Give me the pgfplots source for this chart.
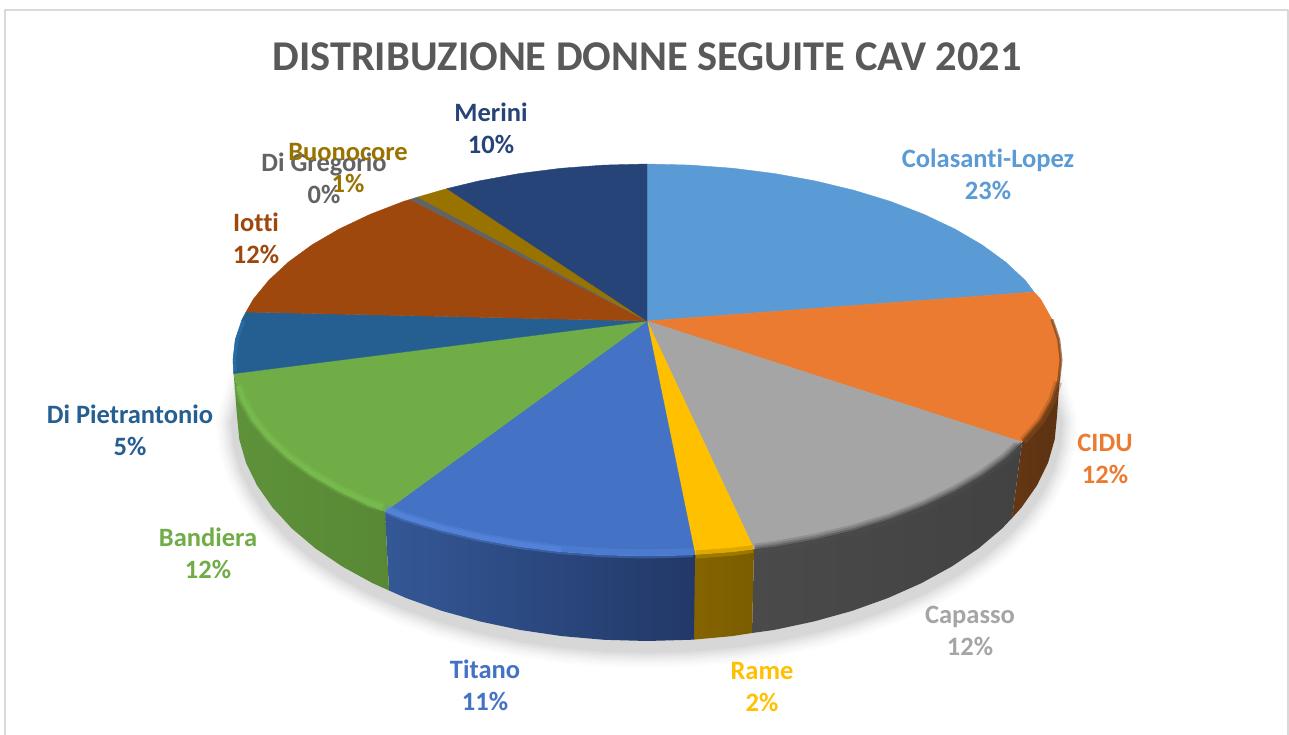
\documentclass[border=0pt]{standalone}
\usepackage{pgfplots}
\usepackage{pgfplotstable}
\usepackage{fontspec}
\setmainfont[Ligatures=NoCommon]{Carlito}
\pgfplotsset{compat=1.18}
\definecolor{cCol}{HTML}{5B9BD5}
\definecolor{cCid}{HTML}{EB7B30}
\definecolor{cCap}{HTML}{A5A5A5}
\definecolor{cRam}{HTML}{FFC000}
\definecolor{cTit}{HTML}{4472C4}
\definecolor{cBan}{HTML}{70AD47}
\definecolor{cDip}{HTML}{255E91}
\definecolor{cIot}{HTML}{9E480E}
\definecolor{cGre}{HTML}{636363}
\definecolor{cBuo}{HTML}{997300}
\definecolor{cMer}{HTML}{264478}
\pgfplotstableread{
x y
1045 375
1057 416
1054.7 439.5
1048 462.8
1036.9 485.5
1021.5 507.5
1002.1 528.5
978.7 548.3
951.7 566.5
921.3 583.2
888 598
852 610.9
813.7 621.5
773.7 630
732.2 636.1
689.8 639.8
647 641
604.2 639.8
561.8 636.1
520.3 630
480.3 621.5
442 610.9
406 598
372.7 583.2
342.3 566.5
315.3 548.3
291.9 528.5
272.5 507.5
257.1 485.5
246 462.8
239.3 439.5
237 416
249 375
}\lowerarc
\newcommand{\lab}[4]{\node[text=#1,font=\fontsize{26.5}{32}\selectfont\bfseries,align=center] at (axis cs:#2,#3) {#4};}
\begin{document}
\begin{tikzpicture}
\begin{axis}[
  width=1289pt,height=735pt,scale only axis,
  xmin=0,xmax=1289,ymin=0,ymax=735,y dir=reverse,
  axis lines=none,no markers,clip=true,
  line join=round,
]
% page background and frame
\addplot[draw=none,fill=white] coordinates {(0,0)(1289,0)(1289,735)(0,735)};
\addplot[draw={rgb,255:red,217;green,217;blue,217},line width=1.6pt] coordinates {(5,735)(5,10)(1288,10)(1288,735)};
% soft shadow
\addplot[draw=black,draw opacity=.012,line width=42pt,line cap=round,yshift=-6pt] table {\lowerarc};
\addplot[draw=black,draw opacity=.014,line width=37pt,line cap=round,yshift=-6pt] table {\lowerarc};
\addplot[draw=black,draw opacity=.016,line width=32pt,line cap=round,yshift=-6pt] table {\lowerarc};
\addplot[draw=black,draw opacity=.018,line width=28pt,line cap=round,yshift=-6pt] table {\lowerarc};
\addplot[draw=black,draw opacity=.02,line width=24pt,line cap=round,yshift=-6pt] table {\lowerarc};
\addplot[draw=black,draw opacity=.022,line width=20pt,line cap=round,yshift=-6pt] table {\lowerarc};
\addplot[draw=black,draw opacity=.024,line width=16pt,line cap=round,yshift=-6pt] table {\lowerarc};
\addplot[draw=black,draw opacity=.026,line width=12pt,line cap=round,yshift=-6pt] table {\lowerarc};
% sides
\addplot[draw=none,left color={rgb,255:red,100;green,55;blue,20},right color={rgb,255:red,92;green,50;blue,18}] coordinates {
(1061,360)(1058.7,380.5)(1051.9,400.7)(1040.8,420.6)(1022,442)(1012,518)(1021.5,507.5)(1036.9,485.5)(1048,462.8)(1054.7,439.5)(1057,416)};
\addplot[draw=none,left color={rgb,255:red,74;green,74;blue,74},right color={rgb,255:red,66;green,66;blue,66}] coordinates {
(1022,442)(1005.5,458)(981.9,475.2)(954.6,491.1)(924,505.6)(890.4,518.6)(854,529.7)(815.4,539)(774.9,546.4)(754,549)(752,633)(773.7,630)(813.7,621.5)(852,610.9)(888,598)(921.3,583.2)(951.7,566.5)(978.7,548.3)(1002.1,528.5)(1012,518)};
\addplot[draw=none,left color={rgb,255:red,133;green,100;blue,0},right color={rgb,255:red,122;green,93;blue,0}] coordinates {
(754,549)(733.1,551.7)(695,554.5)(694,639.6)(732.2,636.1)(752,633)};
\addplot[draw=none,left color={rgb,255:red,52;green,88;blue,150},right color={rgb,255:red,34;green,56;blue,104}] coordinates {
(695,554.5)(690.3,554.9)(647,556)(603.7,554.9)(560.9,551.7)(519.1,546.4)(478.6,539)(440,529.7)(403.6,518.6)(385,511.5)(389,590.5)(406,598)(442,610.9)(480.3,621.5)(520.3,630)(561.8,636.1)(604.2,639.8)(647,641)(689.8,639.8)(694,639.6)};
\addplot[draw=none,left color={rgb,255:red,94;green,146;blue,58},right color={rgb,255:red,88;green,136;blue,53}] coordinates {
(385,511.5)(370,505.6)(339.4,491.1)(312.1,475.2)(288.5,458)(268.8,439.7)(253.2,420.6)(242.1,400.7)(235.3,380.5)(233.7,373.6)(237,416)(239.3,439.5)(246,462.8)(257.1,485.5)(272.5,507.5)(291.9,528.5)(315.3,548.3)(342.3,566.5)(372.7,583.2)(389,590.5)};
% top surface
\addplot[fill=cCol,draw=cCol,line width=.4pt] coordinates {
(647,321)(647,164)(690.3,165.1)(733.1,168.3)(774.9,173.6)(815.4,181)(854,190.3)(890.4,201.4)(924,214.4)(954.6,228.9)(981.9,244.8)(1005.5,262)(1025.2,280.3)(1034,292)(647,321)};
\addplot[fill=cCid,draw=cCid,line width=.4pt] coordinates {
(647,321)(1034,292)(1040.8,299.4)(1051.9,319.3)(1058.7,339.5)(1061,360)(1058.7,380.5)(1051.9,400.7)(1040.8,420.6)(1022,442)(647,321)};
\addplot[fill=cCap,draw=cCap,line width=.4pt] coordinates {
(647,321)(1022,442)(1005.5,458)(981.9,475.2)(954.6,491.1)(924,505.6)(890.4,518.6)(854,529.7)(815.4,539)(774.9,546.4)(754,549)(647,321)};
\addplot[fill=cRam,draw=cRam,line width=.4pt] coordinates {
(647,321)(754,549)(733.1,551.7)(695,554.5)(647,321)};
\addplot[fill=cTit,draw=cTit,line width=.4pt] coordinates {
(647,321)(695,554.5)(690.3,554.9)(647,556)(603.7,554.9)(560.9,551.7)(519.1,546.4)(478.6,539)(440,529.7)(403.6,518.6)(385,511.5)(647,321)};
\addplot[fill=cBan,draw=cBan,line width=.4pt] coordinates {
(647,321)(385,511.5)(370,505.6)(339.4,491.1)(312.1,475.2)(288.5,458)(268.8,439.7)(253.2,420.6)(242.1,400.7)(235.3,380.5)(233.7,373.6)(647,321)};
\addplot[fill=cDip,draw=cDip,line width=.4pt] coordinates {
(647,321)(233.7,373.6)(233,360)(235.3,339.5)(242.1,319.3)(246,312)(647,321)};
\addplot[fill=cIot,draw=cIot,line width=.4pt] coordinates {
(647,321)(246,312)(253.2,299.4)(268.8,280.3)(288.5,262)(312.1,244.8)(339.4,228.9)(370,214.4)(403.6,201.4)(410,199.5)(647,321)};
\addplot[fill=cGre,draw=cGre,line width=.4pt] coordinates {(647,321)(410,199.5)(418,197)(647,321)};
\addplot[fill=cBuo,draw=cBuo,line width=.4pt] coordinates {(647,321)(418,197)(447,188.6)(647,321)};
\addplot[fill=cMer,draw=cMer,line width=.4pt] coordinates {
(647,321)(447,188.6)(478.6,181)(519.1,173.6)(560.9,168.3)(603.7,165.1)(647,164)(647,321)};
% bevel of the rim
\addplot[draw={rgb,255:red,122;green,192;blue,80},draw opacity=.35,line width=9pt,yshift=2pt] coordinates {
(383,509)(370,505.6)(339.4,491.1)(312.1,475.2)(288.5,458)(268.8,439.7)(253.2,420.6)(242.1,400.7)(238,388)};
\addplot[draw={rgb,255:red,122;green,192;blue,80},draw opacity=.5,line width=5pt,yshift=2pt] coordinates {
(383,509)(370,505.6)(339.4,491.1)(312.1,475.2)(288.5,458)(268.8,439.7)(253.2,420.6)(242.1,400.7)(238,388)};
\addplot[draw={rgb,255:red,90;green,140;blue,228},draw opacity=.35,line width=9pt,yshift=2pt] coordinates {
(386,511)(403.6,518.6)(440,529.7)(478.6,539)(519.1,546.4)(560.9,551.7)(603.7,554.9)(647,556)(693,554.7)};
\addplot[draw={rgb,255:red,90;green,140;blue,228},draw opacity=.45,line width=5pt,yshift=2pt] coordinates {
(386,511)(403.6,518.6)(440,529.7)(478.6,539)(519.1,546.4)(560.9,551.7)};
\addplot[draw={rgb,255:red,190;green,146;blue,0},draw opacity=.5,line width=8pt] coordinates {(753,549)(733.1,551.7)(696,554.5)};
\addplot[draw={rgb,255:red,80;green,80;blue,80},draw opacity=.22,line width=11pt] coordinates {
(1018,446)(1005.5,458)(981.9,475.2)(954.6,491.1)(924,505.6)(890.4,518.6)(854,529.7)(815.4,539)(774.9,546.4)(755,549)};
\addplot[draw={rgb,255:red,80;green,80;blue,80},draw opacity=.32,line width=7pt] coordinates {
(1019,445)(1005.5,458)(981.9,475.2)(954.6,491.1)(924,505.6)(890.4,518.6)(854,529.7)(815.4,539)(774.9,546.4)(755,549)};
\addplot[draw={rgb,255:red,72;green,72;blue,72},draw opacity=.5,line width=3pt] coordinates {
(1021,443)(1005.5,458)(981.9,475.2)(954.6,491.1)(924,505.6)(890.4,518.6)(854,529.7)(815.4,539)(774.9,546.4)(755,549)};
\addplot[draw={rgb,255:red,150;green,84;blue,32},draw opacity=.4,line width=8pt] coordinates {
(1058,382)(1051.9,400.7)(1040.8,420.6)(1023,441)};
\addplot[draw={rgb,255:red,112;green,62;blue,22},draw opacity=.65,line width=3pt] coordinates {
(1051.9,319.3)(1058.7,339.5)(1061,360)(1058.7,380.5)(1051.9,400.7)(1040.8,420.6)(1023,441)};
\addplot[draw={rgb,255:red,42;green,116;blue,176},draw opacity=.6,line width=3.5pt] coordinates {
(235,371)(234.5,360)(236.8,339.5)(243.6,321)};
% title and labels
\node[text={rgb,255:red,89;green,89;blue,89},font=\fontsize{42.4}{48}\selectfont\bfseries] at (axis cs:647,57) {DISTRIBUZIONE DONNE SEGUITE CAV 2021};
\lab{cCol}{988}{174}{Colasanti-Lopez\\23\%}
\lab{cCid}{1105}{459}{CIDU\\12\%}
\lab{cCap}{970}{631}{Capasso\\12\%}
\lab{cRam}{762}{687}{Rame\\2\%}
\lab{cTit}{485}{685}{Titano\\11\%}
\lab{cBan}{208}{553}{Bandiera\\12\%}
\lab{cDip}{130}{430}{Di Pietrantonio\\5\%}
\lab{cIot}{256}{238}{Iotti\\12\%}
\lab{cGre}{324}{178}{Di Gregorio\\0\%}
\lab{cBuo}{348}{168}{Buonocore\\1\%}
\lab{cMer}{491}{128}{Merini\\10\%}
\end{axis}
\end{tikzpicture}
\end{document}
